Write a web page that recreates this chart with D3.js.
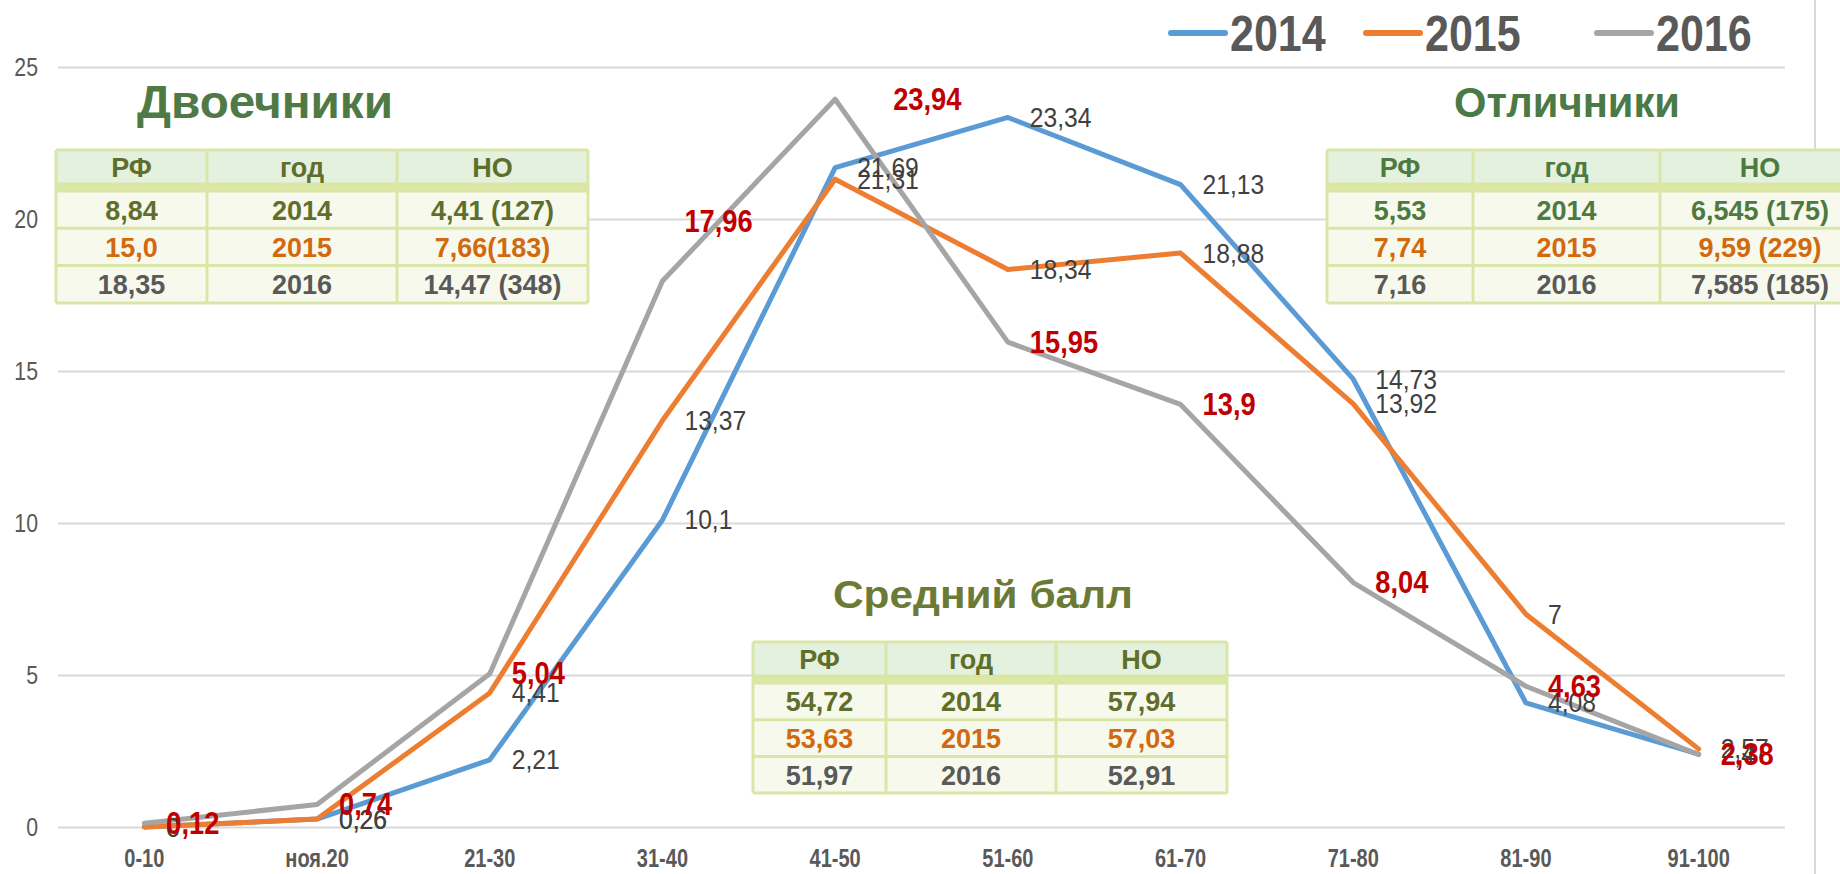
<!DOCTYPE html>
<html>
<head>
<meta charset="utf-8">
<script src="https://cdn.jsdelivr.net/npm/d3@7/dist/d3.min.js"></script>
<style>
  html, body { margin: 0; padding: 0; background: #ffffff; }
  svg { display: block; font-family: "Liberation Sans", Arial, sans-serif; }
</style>
</head>
<body>
<svg id="chart" width="1840" height="874"></svg>
<script>
// ---------- data ----------
const categories = ["0-10", "ноя.20", "21-30", "31-40", "41-50", "51-60", "61-70", "71-80", "81-90", "91-100"];
const years = ["2014", "2015", "2016"];
const values2014 = [0, 0.26, 2.21, 10.1, 21.69, 23.34, 21.13, 14.73, 4.08, 2.4];
const values2015 = [0, 0.26, 4.41, 13.37, 21.31, 18.34, 18.88, 13.92, 7, 2.57];
const values2016 = [0.12, 0.74, 5.04, 17.96, 23.94, 15.95, 13.9, 8.04, 4.63, 2.38];
const yTicks = [0, 5, 10, 15, 20, 25];

const tableHeader = ["РФ", "год", "НО"];
const failRF = ["8,84", "15,0", "18,35"];
const failNO = ["4,41 (127)", "7,66(183)", "14,47 (348)"];
const excRF = ["5,53", "7,74", "7,16"];
const excNO = ["6,545 (175)", "9,59 (229)", "7,585 (185)"];
const avgRF = ["54,72", "53,63", "51,97"];
const avgNO = ["57,94", "57,03", "52,91"];

// ---------- styles ----------
const seriesColors = ["#5B9BD5", "#ED7D31", "#A5A5A5"];
const series = [values2014, values2015, values2016];
const fmt = v => String(v).replace(".", ",");

const svg = d3.select("#chart");
const W = 1840, H = 874;
const plot = { left: 58, right: 1785, top: 67, bottom: 827 };

const x = d3.scaleBand().domain(categories).range([plot.left, plot.right]).paddingInner(0).paddingOuter(0);
const y = d3.scaleLinear().domain([0, 25]).range([plot.bottom, plot.top]);
const cx = c => x(c) + x.bandwidth() / 2;

function squish(sel, f) {
  sel.each(function () {
    const L = this.getComputedTextLength();
    d3.select(this).attr("textLength", L * f).attr("lengthAdjust", "spacingAndGlyphs");
  });
}

// right border line of chart area
svg.append("line").attr("x1", 1815).attr("x2", 1815).attr("y1", 0).attr("y2", H)
  .attr("stroke", "#D9D9D9").attr("stroke-width", 2);

// gridlines + y labels
const yAxis = d3.axisLeft(y).tickValues(yTicks).tickSize(-(plot.right - plot.left)).tickFormat(d3.format("d"));
const gy = svg.append("g").attr("transform", `translate(${plot.left},0)`).call(yAxis);
gy.select(".domain").remove();
gy.selectAll(".tick line").attr("stroke", "#D9D9D9").attr("stroke-width", 2);
gy.selectAll(".tick text").attr("x", -20).attr("fill", "#595959")
  .style("font-size", "25px").style("font-family", "'Liberation Sans', Arial, sans-serif");
squish(gy.selectAll(".tick text"), 0.85);

// x axis labels
const xAxis = d3.axisBottom(x).tickSize(0).tickPadding(0);
const gx = svg.append("g").attr("transform", `translate(0,${plot.bottom})`).call(xAxis);
gx.select(".domain").remove();
gx.selectAll(".tick text").attr("y", 40).attr("dy", 0).attr("fill", "#595959")
  .style("font-size", "25px").style("font-weight", "bold")
  .style("font-family", "'Liberation Sans', Arial, sans-serif");
squish(gx.selectAll(".tick text"), 0.8);

// lines
const line = d3.line().x((d, i) => cx(categories[i])).y(d => y(d));
series.forEach((vals, si) => {
  svg.append("path").datum(vals).attr("d", line)
    .attr("fill", "none").attr("stroke", seriesColors[si]).attr("stroke-width", 5)
    .attr("stroke-linejoin", "round").attr("stroke-linecap", "round");
});

// data labels
const labelNudge = { "2016|31-40": [0, -60], "2016|41-50": [36, 0] };
series.forEach((vals, si) => {
  const red = si === 2;
  const g = svg.append("g");
  const t = g.selectAll("text").data(vals).join("text")
    .attr("x", (d, i) => cx(categories[i]) + 22 + ((labelNudge[years[si] + "|" + categories[i]] || [0, 0])[0]))
    .attr("y", (d, i) => y(d) + ((labelNudge[years[si] + "|" + categories[i]] || [0, 0])[1]))
    .attr("dominant-baseline", "central")
    .attr("fill", red ? "#C00000" : "#404040")
    .style("font-size", red ? "31px" : "28px")
    .style("font-weight", red ? "bold" : "normal")
    .text(d => fmt(d));
  squish(t, 0.88);
});

// legend
const legX = [1171, 1366, 1597];
years.forEach((yr, i) => {
  svg.append("line").attr("x1", legX[i]).attr("x2", legX[i] + 54).attr("y1", 33).attr("y2", 33)
    .attr("stroke", seriesColors[i]).attr("stroke-width", 6).attr("stroke-linecap", "round");
  const t = svg.append("text").attr("x", legX[i] + 59).attr("y", 51)
    .attr("fill", "#595959").style("font-size", "50px").style("font-weight", "bold").text(yr);
  squish(t, 0.86);
});

// titles
function title(txt, xc, base, size, color, width) {
  const t = svg.append("text").attr("x", xc).attr("y", base).attr("text-anchor", "middle")
    .attr("fill", color).style("font-size", size + "px").style("font-weight", "bold").text(txt);
  if (width) t.attr("textLength", width).attr("lengthAdjust", "spacingAndGlyphs");
}
title("Двоечники", 265, 118, 47, "#4F7A45", 256);
title("Отличники", 1567, 117, 43, "#4A7A46", 226);
title("Средний балл", 983, 608, 38, "#6B7B35", 300);

// tables
function drawTable(x0, y0, colW, rows, textColors, headColor, rowH) {
  const g = svg.append("g");
  const headH = 34, bandH = 7;
  const totalW = d3.sum(colW);
  const xs = [x0];
  colW.forEach(w => xs.push(xs[xs.length - 1] + w));
  const bodyTop = y0 + headH + bandH;
  const totalH = headH + bandH + rowH * rows.length;
  g.append("rect").attr("x", x0).attr("y", y0).attr("width", totalW).attr("height", headH).attr("fill", "#E4F1DE");
  g.append("rect").attr("x", x0).attr("y", y0 + headH).attr("width", totalW).attr("height", bandH).attr("fill", "#DDE8A2");
  g.append("rect").attr("x", x0).attr("y", bodyTop).attr("width", totalW).attr("height", rowH * rows.length).attr("fill", "#F7F9EC");
  const bc = "#DAE6A8";
  const hy = [y0, y0 + headH];
  for (let r = 0; r <= rows.length; r++) hy.push(bodyTop + r * rowH);
  hy.forEach(yy => g.append("line").attr("x1", x0).attr("x2", x0 + totalW).attr("y1", yy).attr("y2", yy)
    .attr("stroke", bc).attr("stroke-width", 3));
  xs.forEach(xx => g.append("line").attr("x1", xx).attr("x2", xx).attr("y1", y0).attr("y2", y0 + totalH)
    .attr("stroke", bc).attr("stroke-width", 3));
  tableHeader.forEach((h, c) => {
    g.append("text").attr("x", (xs[c] + xs[c + 1]) / 2).attr("y", y0 + headH / 2 + 1)
      .attr("text-anchor", "middle").attr("dominant-baseline", "central")
      .attr("fill", headColor).style("font-size", "27px").style("font-weight", "bold").text(h);
  });
  rows.forEach((row, r) => {
    row.forEach((cell, c) => {
      g.append("text").attr("x", (xs[c] + xs[c + 1]) / 2).attr("y", bodyTop + r * rowH + rowH / 2 + 1)
        .attr("text-anchor", "middle").attr("dominant-baseline", "central")
        .attr("fill", textColors[r]).style("font-size", "27px").style("font-weight", "bold").text(cell);
    });
  });
}
const rowsOf = (rf, no) => rf.map((v, i) => [v, years[i], no[i]]);
drawTable(56, 150, [151, 190, 191], rowsOf(failRF, failNO), ["#606E2C", "#D2690E", "#595959"], "#606E2C", 37.3);
drawTable(1327, 150, [146, 187, 200], rowsOf(excRF, excNO), ["#4C7A40", "#D2690E", "#595959"], "#4C7A40", 37.3);
drawTable(753, 642, [133, 170, 171], rowsOf(avgRF, avgNO), ["#606E2C", "#D2690E", "#595959"], "#606E2C", 36.7);
</script>
</body>
</html>
